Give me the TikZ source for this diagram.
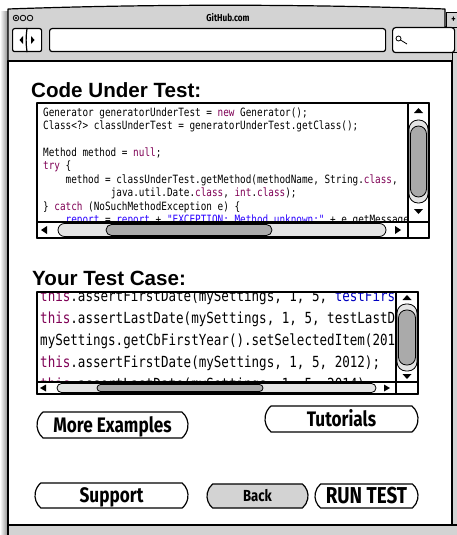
\documentclass[tikz,border=0pt]{standalone}
\usepackage{fontspec}
\setmainfont{Liberation Sans}
\newfontfamily\codefont[FakeStretch=0.82,WordSpace={1,0,0}]{DejaVu Sans Mono}
\newfontfamily\sketchfont[FakeStretch=0.82]{Fira Sans}
\usepackage{tikz}
\usetikzlibrary{shapes.misc}
\usetikzlibrary{positioning,fit}
\definecolor{chrome}{RGB}{211,211,211}
\definecolor{keyword}{RGB}{127,0,85}
\definecolor{field}{RGB}{0,0,192}
\definecolor{literal}{RGB}{42,0,255}
\definecolor{track}{RGB}{228,228,228}
\definecolor{thumb}{RGB}{170,170,170}
\newcommand{\kw}[1]{\textcolor{keyword}{#1}}
\newcommand{\fld}[1]{\textcolor{field}{#1}}
\newcommand{\lit}[1]{\textcolor{literal}{#1}}
\tikzset{sketch line/.style={draw=black, line width=1.2pt, line join=round}}
\tikzset{thin sketch/.style={draw=black, line width=0.8pt, line join=round}}
\tikzset{frame node/.style={sketch line, fill=white, anchor=north west, inner sep=0pt}}
\tikzset{button node/.style={rounded rectangle, rounded rectangle arc length=100,
    sketch line, fill=white, inner sep=0pt, text height=14.5pt, text depth=0pt,
    font=\sketchfont\bfseries\fontsize{21}{21}\selectfont}}
\tikzset{headline/.style={anchor=base west, inner sep=0pt,
    font=\bfseries\fontsize{20.6}{20.6}\selectfont}}
\tikzset{small code/.style={anchor=base west, inner sep=0pt,
    font=\codefont\fontsize{11.4}{11.4}\selectfont}}
\tikzset{large code/.style={anchor=base west, inner sep=0pt,
    font=\codefont\fontsize{15.3}{15.3}\selectfont}}
\tikzset{scroll track/.style={thin sketch, fill=track}}
\tikzset{scroll thumb/.style={thin sketch, fill=thumb}}
\frenchspacing

\begin{document}
\begin{tikzpicture}[x=1pt, y=-1pt]
  \useasboundingbox (0,0) rectangle (457,535);
  \clip (0,0) rectangle (457,535);

  % browser window
  \shade [left color=white, right color=black!45] (0,12) rectangle (8,535);
  \path [sketch line, fill=chrome] (8,61) -- (8,9) .. controls (150,4) and (300,4) .. (445,9)
        -- (445,27) -- (460,27) -- (460,61) -- cycle;
  \node [frame node, fill=chrome, minimum width=14, minimum height=15,
         font=\sketchfont\bfseries\fontsize{10}{10}\selectfont] (newtab) at (446,12) {+};
  \foreach \cx in {16,23,30}
    \draw [thin sketch] (\cx,18) circle (2.8);
  \fill (16,18) circle (1.2);
  \node [font=\sketchfont\bfseries\fontsize{10}{10}\selectfont] (title) at (228,18) {GitHub.com};

  \node [frame node, rounded corners=2, minimum width=29, minimum height=23] (navbox) at (12,28) {};
  \draw [sketch line] (navbox.north) to[bend right=8] (navbox.south);
  \fill (23,36) -- (23,44) -- (19.5,40) -- cycle;
  \fill (31,36) -- (31,44) -- (34.5,40) -- cycle;
  \node [frame node, rounded corners=2.5, minimum width=336, minimum height=23] (address) at (49,28) {};
  \node [frame node, rounded corners=3, minimum width=62, minimum height=25] (search) at (392,27) {};
  \draw [thin sketch] (398.5,38.5) circle (2.5) (400.5,40) -- (407,44);

  \path [sketch line, fill=white] (8,61) rectangle (452,525);
  \path [thin sketch, fill=chrome] (452,52) rectangle (460,525);
  \path [sketch line, fill=chrome] (8,525) rectangle (460,540);

  % code under test
  \node [headline] (cuthead) at (31,97) {Code Under Test:};
  \path [fill=white] (37,103) rectangle (429,238);
  \begin{scope}
    \clip (37,103) rectangle (408,222);
    \node [small code] (cut1) at (43,116)    {Generator generatorUnderTest = \kw{new} Generator();};
    \node [small code] (cut2) at (43,129.5)  {Class<?> classUnderTest = generatorUnderTest.getClass();};
    \node [small code] (cut4) at (43,156)    {Method method = \kw{null};};
    \node [small code] (cut5) at (43,169.5)  {\kw{try} \{};
    \node [small code] (cut6) at (65.5,183)  {method = classUnderTest.getMethod(methodName, String.\kw{class},};
    \node [small code] (cut7) at (110.6,196.5) {java.util.Date.\kw{class}, \kw{int}.\kw{class});};
    \node [small code] (cut8) at (43,210)    {\} \kw{catch} (NoSuchMethodException e) \{};
    \node [small code] (cut9) at (65.5,223.5) {\lit{report} = \lit{report} + \lit{"EXCEPTION: Method unknown:"} + e.getMessage();};
  \end{scope}
  \draw [sketch line, fill=white] (408,103) rectangle (429,222);
  \fill (418.5,108) -- (423,113) -- (414,113) -- cycle;
  \path [scroll track, rounded corners=9] (409,120) rectangle (428,203);
  \path [scroll thumb, rounded corners=8] (410.5,126) rectangle (426.5,197);
  \fill (414,209) -- (423,209) -- (418.5,214) -- cycle;
  \draw [sketch line, fill=white] (37,222) rectangle (408,238);
  \fill (41,230) -- (47,226) -- (47,234) -- cycle;
  \path [scroll track, rounded corners=6.5] (58,223.5) rectangle (386,236.5);
  \path [scroll thumb, rounded corners=5.5] (106,224.5) rectangle (272,235.5);
  \fill (401,230) -- (395,226) -- (395,234) -- cycle;
  \draw [sketch line] (408,222) rectangle (429,238);
  \draw [sketch line] (37,103) rectangle (429,238);

  % test case
  \node [headline] (testhead) at (32,285) {Your Test Case:};
  \path [fill=white] (37,292) rectangle (418,394);
  \begin{scope}
    \clip (37,292) rectangle (396,382);
    \node [large code] (test1) at (40,301) {\kw{this}.assertFirstDate(mySettings, 1, 5, \fld{testFirstDate});};
    \node [large code] (test2) at (40,323) {\kw{this}.assertLastDate(mySettings, 1, 5, testLastDate);};
    \node [large code] (test3) at (40,345) {mySettings.getCbFirstYear().setSelectedItem(2012);};
    \node [large code] (test4) at (40,367) {\kw{this}.assertFirstDate(mySettings, 1, 5, 2012);};
    \node [large code] (test5) at (40,389) {\kw{this}.assertLastDate(mySettings, 1, 5, 2014);};
  \end{scope}
  \draw [sketch line, fill=white] (396,292) rectangle (418,382);
  \fill (407,295) -- (411.5,300) -- (402.5,300) -- cycle;
  \path [scroll track, rounded corners=9] (397,304) rectangle (417,371);
  \path [scroll thumb, rounded corners=8] (398.5,310) rectangle (415.5,365);
  \fill (402.5,374) -- (411.5,374) -- (407,379) -- cycle;
  \draw [sketch line, fill=white] (37,382) rectangle (396,394);
  \fill (40,388) -- (46,384.5) -- (46,391.5) -- cycle;
  \path [scroll track, rounded corners=4.5] (57,383.5) rectangle (376,392.5);
  \path [scroll thumb, rounded corners=3.5] (97,384.5) rectangle (263,391.5);
  \fill (390,388) -- (384,384.5) -- (384,391.5) -- cycle;
  \draw [sketch line] (396,382) rectangle (418,394);
  \draw [sketch line] (37,292) rectangle (418,394);

  % buttons
  \node [button node, minimum width=151, minimum height=26] (moreexamples) at (112.5,425) {More Examples};
  \node [button node, minimum width=153, minimum height=26] (tutorials)    at (341.5,419) {Tutorials};
  \node [button node, minimum width=153, minimum height=25] (support)      at (111.5,495.5) {Support};
  \node [button node, fill=chrome, minimum width=101, minimum height=24, text height=11pt,
         font=\sketchfont\bfseries\fontsize{16}{16}\selectfont] (back) at (257.5,496) {Back};
  \node [button node, minimum width=103, minimum height=24, text height=15.8pt,
         font=\sketchfont\bfseries\fontsize{23}{23}\selectfont] (runtest) at (366.5,496) {RUN TEST};
\end{tikzpicture}
\end{document}
